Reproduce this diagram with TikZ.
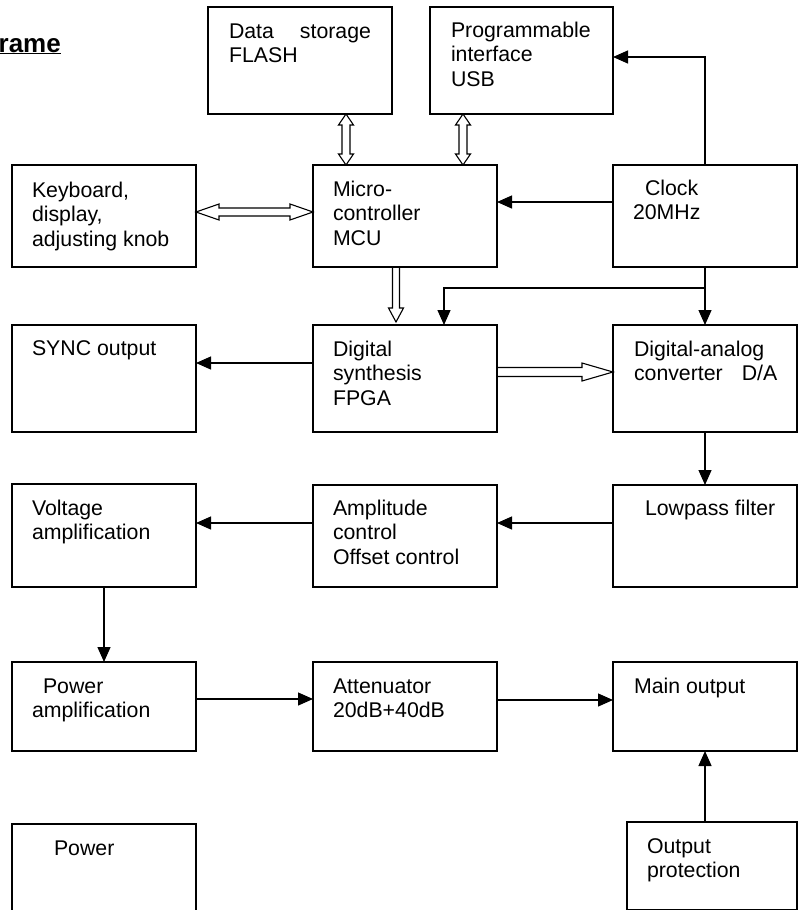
\documentclass[tikz,border=0pt]{standalone}
\usepackage{fontspec}
\setmainfont{Liberation Sans}
\usetikzlibrary{arrows.meta,calc}
\newcommand{\lns}[1]{\parbox[t]{175pt}{\raggedright #1}}
\begin{document}
\begin{tikzpicture}[x=1pt,y=-1pt,
  blk/.style={draw, line width=1.2pt, rectangle, anchor=north west, inner sep=0pt, outer sep=0pt},
  txt/.style={anchor=base west, inner sep=0pt, outer sep=0pt, font=\fontsize{21.3}{24.5}\selectfont},
  arr/.style={line width=1.3pt, -{Triangle[length=15pt,width=13pt]}},
  hol/.style={line width=1.1pt, line join=miter},
  hvdouble/.style={hol, to path={let \p1=(\tikztostart), \p2=(\tikztotarget) in
    (\x1,\y1) -- (\x1-7.5pt,\y1-11pt) -- (\x1-4pt,\y1-11pt) -- (\x1-4pt,\y2+11pt) -- (\x1-7.5pt,\y2+11pt)
    -- (\x2,\y2) -- (\x1+7.5pt,\y2+11pt) -- (\x1+4pt,\y2+11pt) -- (\x1+4pt,\y1-11pt) -- (\x1+7.5pt,\y1-11pt) -- cycle}},
  hhdouble/.style={hol, to path={let \p1=(\tikztostart), \p2=(\tikztotarget) in
    (\x1,\y1) -- (\x1+23pt,\y1+8pt) -- (\x1+23pt,\y1+4pt) -- (\x2-23pt,\y1+4pt) -- (\x2-23pt,\y1+8pt)
    -- (\x2,\y2) -- (\x2-23pt,\y1-8pt) -- (\x2-23pt,\y1-4pt) -- (\x1+23pt,\y1-4pt) -- (\x1+23pt,\y1-8pt) -- cycle}},
  hvdown/.style={hol, to path={let \p1=(\tikztostart), \p2=(\tikztotarget) in
    (\x1-3.5pt,\y1) -- (\x1-3.5pt,\y2+14pt) -- (\x1-7.5pt,\y2+14pt) -- (\x2,\y2)
    -- (\x1+7.5pt,\y2+14pt) -- (\x1+3.5pt,\y2+14pt) -- (\x1+3.5pt,\y1)}},
  hhright/.style={hol, to path={let \p1=(\tikztostart), \p2=(\tikztotarget) in
    (\x1,\y1+4.5pt) -- (\x2-31pt,\y1+4.5pt) -- (\x2-31pt,\y1+9pt) -- (\x2,\y2)
    -- (\x2-31pt,\y1-9pt) -- (\x2-31pt,\y1-4.5pt) -- (\x1,\y1-4.5pt)}}
]
\clip (0,0) rectangle (798,910);

% title fragment
\node[anchor=base east, inner sep=0pt, font=\fontsize{26}{30}\selectfont\bfseries] (title) at (61,52) {\underline{rame}};

% blocks
\node[blk, minimum width=184, minimum height=107] (ds) at (208,7) {};
\node[blk, minimum width=183, minimum height=107] (usb) at (430,7) {};
\node[blk, minimum width=184, minimum height=102] (kb) at (12,165) {};
\node[blk, minimum width=184, minimum height=102] (mcu) at (313,165) {};
\node[blk, minimum width=184, minimum height=102] (clk) at (613,165) {};
\node[blk, minimum width=184, minimum height=107] (sync) at (12,325) {};
\node[blk, minimum width=184, minimum height=107] (fpga) at (313,325) {};
\node[blk, minimum width=184, minimum height=107] (da) at (613,325) {};
\node[blk, minimum width=184, minimum height=103] (volt) at (12,484) {};
\node[blk, minimum width=184, minimum height=102] (amp) at (313,485) {};
\node[blk, minimum width=184, minimum height=102] (lp) at (613,485) {};
\node[blk, minimum width=184, minimum height=89] (pamp) at (12,662) {};
\node[blk, minimum width=184, minimum height=89] (att) at (313,662) {};
\node[blk, minimum width=184, minimum height=89] (main) at (613,662) {};
\node[blk, minimum width=184, minimum height=120] (pwr) at (12,824) {};
\node[blk, minimum width=170, minimum height=88] (prot) at (627,822) {};

% texts
\node[txt] (tds) at ([shift={(21pt,-31pt)}]ds.north west) {\lns{Data\hspace{26pt}storage\\FLASH}};
\node[txt] (tusb) at ([shift={(21pt,-30pt)}]usb.north west) {\lns{Programmable\\interface\\USB}};
\node[txt] (tkb) at ([shift={(20pt,-32pt)}]kb.north west) {\lns{Keyboard,\\display,\\adjusting knob}};
\node[txt] (tmcu) at ([shift={(20pt,-31pt)}]mcu.north west) {\lns{Micro-\\controller\\MCU}};
\node[txt] (tclk) at ([shift={(20pt,-30pt)}]clk.north west) {\lns{\hspace*{12pt}Clock\\20MHz}};
\node[txt] (tsync) at ([shift={(20pt,-30pt)}]sync.north west) {\lns{SYNC output}};
\node[txt] (tfpga) at ([shift={(20pt,-31pt)}]fpga.north west) {\lns{Digital\\synthesis\\FPGA}};
\node[txt] (tda) at ([shift={(21pt,-31pt)}]da.north west) {\lns{Digital-analog\\converter\hspace{19pt}D/A}};
\node[txt] (tvolt) at ([shift={(20pt,-31pt)}]volt.north west) {\lns{Voltage\\amplification}};
\node[txt] (tamp) at ([shift={(20pt,-30pt)}]amp.north west) {\lns{Amplitude\\control\\Offset control}};
\node[txt] (tlp) at ([shift={(20pt,-30pt)}]lp.north west) {\lns{\hspace*{12pt}Lowpass filter}};
\node[txt] (tpamp) at ([shift={(20pt,-31pt)}]pamp.north west) {\lns{\hspace*{11pt}Power\\amplification}};
\node[txt] (tatt) at ([shift={(20pt,-31pt)}]att.north west) {\lns{Attenuator\\20dB+40dB}};
\node[txt] (tmain) at ([shift={(21pt,-31pt)}]main.north west) {\lns{Main output}};
\node[txt] (tpwr) at ([shift={(20pt,-31pt)}]pwr.north west) {\lns{\hspace*{22pt}Power}};
\node[txt] (tprot) at ([shift={(20pt,-31pt)}]prot.north west) {\lns{Output\\protection}};

% anchor points for hollow (bus) arrows
\coordinate (dsB) at ([xshift=138pt]ds.south west);
\coordinate (mcuA) at ([xshift=33pt]mcu.north west);
\coordinate (usbB) at ([xshift=33pt]usb.south west);
\coordinate (mcuA2) at ([xshift=150pt]mcu.north west);
\coordinate (kbR) at ([yshift=4pt]kb.east);
\coordinate (mcuL) at ([yshift=4pt]mcu.west);
\coordinate (mcuB) at ([xshift=83pt]mcu.south west);
\coordinate (fpgaT) at ([xshift=83pt,yshift=3pt]fpga.north west);
\coordinate (fpgaR) at ([yshift=6.5pt]fpga.east);
\coordinate (daL) at ([yshift=6.5pt]da.west);

% hollow arrows
\draw[hvdouble] (dsB) to (mcuA);
\draw[hvdouble] (usbB) to (mcuA2);
\draw[hhdouble] (kbR) to (mcuL);
\draw[hvdown] (mcuB) to (fpgaT);
\draw[hhright] (fpgaR) to (daL);

% solid arrows
\draw[arr] ([yshift=14pt]clk.west) -- ([yshift=14pt]clk.west -| mcu.east);
\draw[arr] (clk.north) |- ([yshift=3.5pt]usb.east);
\draw[arr] (clk.south) -- (da.north);
\draw[arr] ([yshift=-21pt]clk.south) -| ([xshift=131pt]fpga.north west);
\draw[arr] ([yshift=15.5pt]fpga.west) -- ([yshift=15.5pt]fpga.west -| sync.east);
\draw[arr] (da.south) -- (lp.north);
\draw[arr] ([yshift=13pt]lp.west) -- ([yshift=13pt]lp.west -| amp.east);
\draw[arr] ([yshift=13pt]amp.west) -- ([yshift=13pt]amp.west -| volt.east);
\draw[arr] (volt.south) -- (pamp.north);
\draw[arr] ([yshift=7.5pt]pamp.east) -- ([yshift=7.5pt]pamp.east -| att.west);
\draw[arr] ([yshift=6.5pt]att.east) -- ([yshift=6.5pt]att.east -| main.west);
\draw[arr] (main.south |- prot.north) -- (main.south);
\end{tikzpicture}
\end{document}
